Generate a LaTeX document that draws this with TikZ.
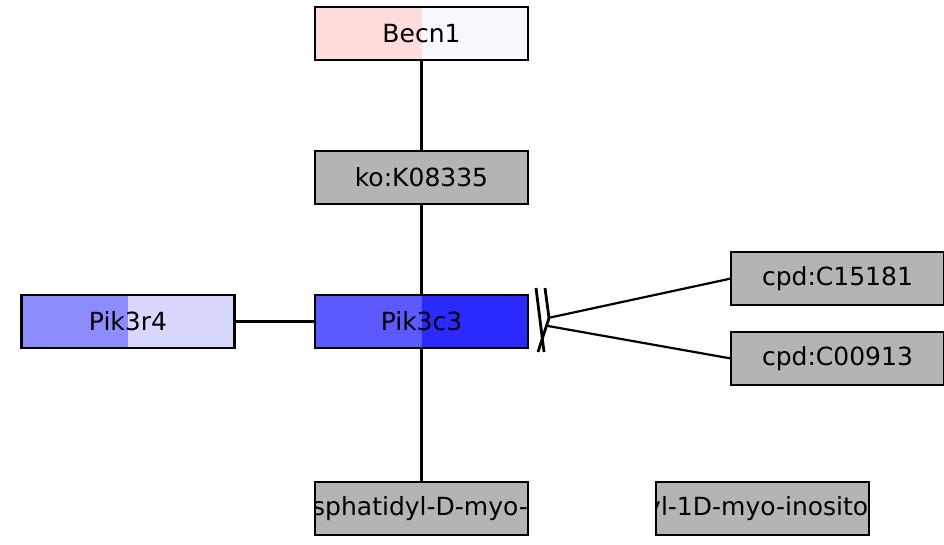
\documentclass[tikz,border=0pt]{standalone}
\usepackage{fontspec}
\setmainfont{DejaVu Sans}
\usepackage{tikz}

\definecolor{nodegray}{HTML}{B4B4B4}
\definecolor{becnl}{HTML}{FFDCDC}
\definecolor{becnr}{HTML}{F8F8FF}
\definecolor{rfourl}{HTML}{8C8CFF}
\definecolor{rfourr}{HTML}{D8D8FF}
\definecolor{cthreel}{HTML}{5A5AFF}
\definecolor{cthreer}{HTML}{2A2AFF}

\tikzset{
  label font/.style={font=\fontsize{25}{27}\selectfont},
  gene/.style={minimum width=213pt, minimum height=53pt,
    inner sep=0pt, outer sep=0pt, label font},
  cpd/.style={gene, fill=nodegray},
  halves/.style 2 args={path picture={
    \fill[#1] (path picture bounding box.south west) rectangle (path picture bounding box.north);
    \fill[#2] (path picture bounding box.south) rectangle (path picture bounding box.north east);}},
  link/.style={line width=2.2pt},
  frame/.style={line width=2.4pt}
}

\begin{document}
\begin{tikzpicture}[x=1pt, y=-1pt]
            \useasboundingbox (0,0) rectangle (944,545);

            \node[gene, halves={becnl}{becnr}] (becn) at (421.5,33.5) {Becn1};
            \node[cpd] (ko) at (421.5,177.5) {ko:K08335};
            \node[gene, halves={cthreel}{cthreer}] (pikc) at (421.5,321.5) {Pik3c3};
            \node[gene, halves={rfourl}{rfourr}] (pikr) at (128,321.5) {Pik3r4};
            \node[cpd] (cfive) at (837.5,278.5) {cpd:C15181};
            \node[cpd] (cnine) at (837.5,358.5) {cpd:C00913};
            \node[cpd] (pi) at (421.5,508.5) {};
            \node[cpd] (pip) at (762.5,508.5) {};

            % long names, cut at the box edges
            \begin{scope}
              \clip (pi.south west) rectangle (pi.north east);
              \node[label font, inner sep=0pt, anchor=west] (pitext) at ([xshift=-3pt]pi.west) {sphatidyl-D-myo-inositol};
            \end{scope}
            \begin{scope}
              \clip (pip.south west) rectangle (pip.north east);
              \node[label font, inner sep=0pt, anchor=west] (piptext) at ([xshift=-10pt]pip.west) {yl-1D-myo-inositol};
            \end{scope}

            \draw[link] (becn) -- (ko);
            \draw[link] (ko) -- (pikc);
            \draw[link] (pikc) -- (pi);
            \draw[link] (pikr) -- (pikc);

            % box outlines
            \foreach \n in {becn,ko,pikc,pikr,cfive,cnine,pi,pip}
              \draw[frame] (\n.south west) rectangle (\n.north east);

            % reaction arms and their crossed end
            \coordinate (armtop) at (548,318);
            \coordinate (armbot) at (548,326);
            \draw[link] (cfive.west) -- (armtop);
            \draw[link] (cnine.west) -- (armbot);
            \draw[line width=2.8pt] (536,288) -- (544,352);
            \draw[line width=2.8pt] (545,288) -- (549,318) -- (538,352);

        \end{tikzpicture}
\end{document}
